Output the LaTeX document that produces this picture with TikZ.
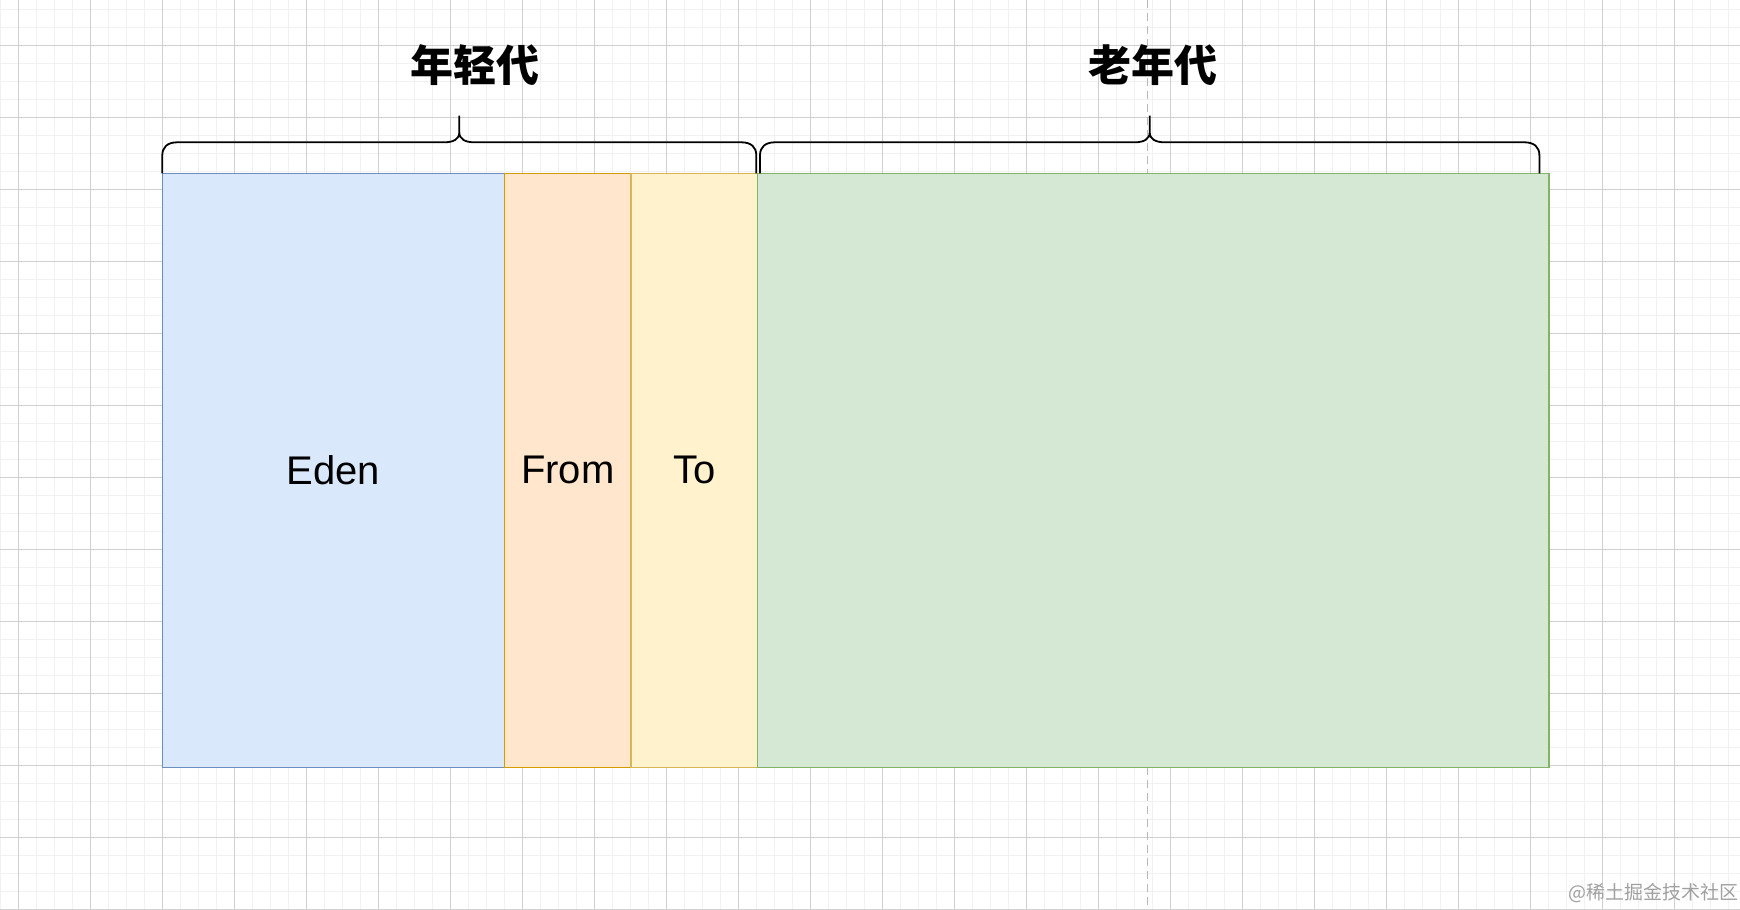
\documentclass[tikz,border=0pt]{standalone}
\usepackage{fontspec}
\newfontfamily\cjk{Noto Sans CJK SC}
\newfontfamily\spacefont{Liberation Sans}
\usetikzlibrary{positioning}
\definecolor{edenfill}{HTML}{DAE8FC}
\definecolor{edenline}{HTML}{6C8EBF}
\definecolor{fromfill}{HTML}{FFE6CC}
\definecolor{fromline}{HTML}{D79B00}
\definecolor{tofill}{HTML}{FFF2CC}
\definecolor{toline}{HTML}{D6B656}
\definecolor{oldfill}{HTML}{D5E8D4}
\definecolor{oldline}{HTML}{82B366}
\definecolor{gridmajor}{RGB}{208,208,208}
\definecolor{gridminor}{RGB}{241,241,241}
\definecolor{guide}{RGB}{185,185,185}
\definecolor{stamp}{RGB}{160,160,160}
\tikzset{
  every picture/.style={x=1pt, y=1pt},
  space/.style={draw, line width=1.5pt, inner sep=0pt, outer sep=0pt, minimum height=594pt, font=\spacefont\fontsize{40}{40}\selectfont},
  eden/.style={space, fill=edenfill, draw=edenline, minimum width=342.1pt},
  survivor/.style={space, minimum width=126.6pt},
  oldgen/.style={space, fill=oldfill, draw=oldline, minimum width=791.3pt},
  gen/.style={font=\cjk\bfseries\fontsize{43}{43}\selectfont, inner sep=0pt},
  brace/.style={draw=black, line width=1.8pt, line join=round},
  minorgrid/.style={draw=gridminor, line width=1pt},
  majorgrid/.style={draw=gridmajor, line width=1pt},
  guideline/.style={draw=guide, line width=1.5pt, dash pattern=on 8pt off 5pt},
  watermark/.style={font=\cjk\fontsize{19}{19}\selectfont, text=stamp, inner sep=0pt},
}
\begin{document}
\begin{tikzpicture}
  \useasboundingbox (0,0) rectangle (1740,910);
  \fill[white] (0,0) rectangle (1740,910);
  % canvas grid
  \begin{scope}[xshift=18.4pt]
    \draw[minorgrid, step=18] (-18.4,0) grid (1721.6,910);
    \draw[majorgrid, step=72] (-18.4,0) grid (1721.6,910);
  \end{scope}
  \coordinate (guidetop) at (1147.5,910);
  \coordinate (guidebot) at (1147.5,0);
  \draw[guideline] (guidetop) -- (guidebot);
  % heap spaces
  \node[eden, anchor=north west] (eden) at (162.3,736.7) {Eden};
  \node[survivor, fill=fromfill, draw=fromline, right=0pt of eden] (from) {From};
  \node[survivor, fill=tofill, draw=toline, right=0pt of from] (to) {To};
  \node[oldgen, right=0pt of to] (old) {};
  % curly brackets over the generations
  \foreach \a/\b in {162.3/756.3, 760/1539.4} {
    \pgfmathsetmacro{\m}{(\a+\b)/2}
    \draw[brace] (\a,736.7) -- (\a,754.7) .. controls (\a,762.7) and (\a+5,767.7) .. (\a+15,767.7)
      -- (\m-15,767.7) .. controls (\m-6,767.7) and (\m,770.7) .. (\m,777.7) -- (\m,794.3)
      (\m,777.7) .. controls (\m,770.7) and (\m+6,767.7) .. (\m+15,767.7)
      -- (\b-15,767.7) .. controls (\b-5,767.7) and (\b,762.7) .. (\b,754.7) -- (\b,736.7);
  }
  \node[gen] (young) at (474.5,845) {年轻代};
  \node[gen] (tenured) at (1152.5,845) {老年代};
  \node[watermark] (site) at (1653.7,17) {@稀土掘金技术社区};
\end{tikzpicture}
\end{document}
